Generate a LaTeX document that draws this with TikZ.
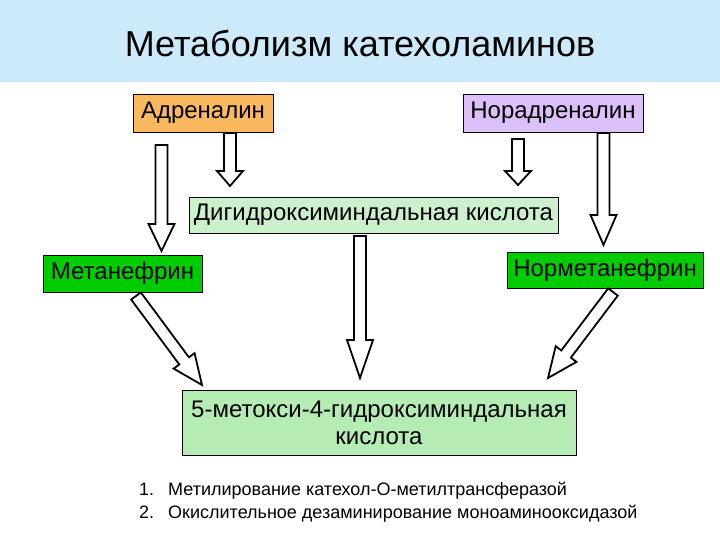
\documentclass[tikz,border=0pt]{standalone}
\usepackage{fontspec}
\setmainfont{Liberation Sans}
\usetikzlibrary{calc}
\definecolor{hdrblue}{RGB}{204,234,250}
\definecolor{adrorange}{RGB}{250,185,95}
\definecolor{norlav}{RGB}{220,192,250}
\definecolor{palegreen}{RGB}{204,240,204}
\definecolor{brightgreen}{RGB}{0,204,0}
\definecolor{midgreen}{RGB}{180,236,180}
\tikzset{
  box/.style={draw=black, line width=0.9pt, inner sep=0pt, align=center,
    font=\fontsize{24}{27}\selectfont},
  barrow/.style={draw=black, fill=white, line width=1.8pt, line join=miter},
  note/.style={anchor=base west, inner sep=0pt, font=\fontsize{18}{21}\selectfont}
}
\newcommand\blockarrow[3]{%
  \draw[barrow] let \p1=(#1), \p2=(#2),
    \n1={atan2(\y2-\y1,\x2-\x1)}, \n2={veclen(\x2-\x1,\y2-\y1)} in
    [shift={(\p1)}, rotate=\n1]
    (0,6) -- (\n2-#3,6) -- (\n2-#3,13) -- (\n2,0) -- (\n2-#3,-13) -- (\n2-#3,-6) -- (0,-6) -- cycle;
}
\begin{document}
\begin{tikzpicture}[x=1pt,y=-1pt]
\useasboundingbox (0,0) rectangle (720,540);
\fill[white] (0,0) rectangle (720,540);
\fill[hdrblue] (0,0) rectangle (720,82);
\node (title) at (360,43) {\fontsize{36}{40}\selectfont Метаболизм катехоламинов};

\node[box, fill=adrorange, minimum width=140, minimum height=38] (adr) at (203,113) {Адреналин};
\node[box, fill=norlav, minimum width=180, minimum height=38] (nor) at (553,113) {Норадреналин};
\node[box, fill=palegreen, minimum width=369, minimum height=36] (dhm) at (373.5,215) {Дигидроксиминдальная кислота};
\node[box, fill=brightgreen, minimum width=159, minimum height=37] (met) at (122.5,273.5) {Метанефрин};
\node[box, fill=brightgreen, minimum width=196, minimum height=36] (nmet) at (605,270) {Норметанефрин};
\node[box, fill=midgreen, minimum width=394, minimum height=65] (vma) at (379,422.5) {5-метокси-4-гидроксиминдальная\\кислота};

\coordinate (a1s) at (161.5,145); \coordinate (a1e) at (161.5,251);
\coordinate (a2s) at (230,133);   \coordinate (a2e) at (230,186);
\coordinate (a3s) at (518,139);   \coordinate (a3e) at (518,185);
\coordinate (a4s) at (603.5,133); \coordinate (a4e) at (603.5,245);
\coordinate (a5s) at (360,236);   \coordinate (a5e) at (360,378);
\coordinate (a6s) at (136,296);   \coordinate (a6e) at (202,385);
\coordinate (a7s) at (613,292);   \coordinate (a7e) at (548,378);

\blockarrow{a1s}{a1e}{27}
\blockarrow{a2s}{a2e}{15}
\blockarrow{a3s}{a3e}{14}
\blockarrow{a4s}{a4e}{30}
\blockarrow{a5s}{a5e}{38}
\blockarrow{a6s}{a6e}{30}
\blockarrow{a7s}{a7e}{30}

\node[note] (n1num) at (139,495) {1.};
\node[note] (n1) at (168,495) {Метилирование катехол-О-метилтрансферазой};
\node[note] (n2num) at (139,518) {2.};
\node[note] (n2) at (168,518) {Окислительное дезаминирование моноаминооксидазой};
\end{tikzpicture}
\end{document}
